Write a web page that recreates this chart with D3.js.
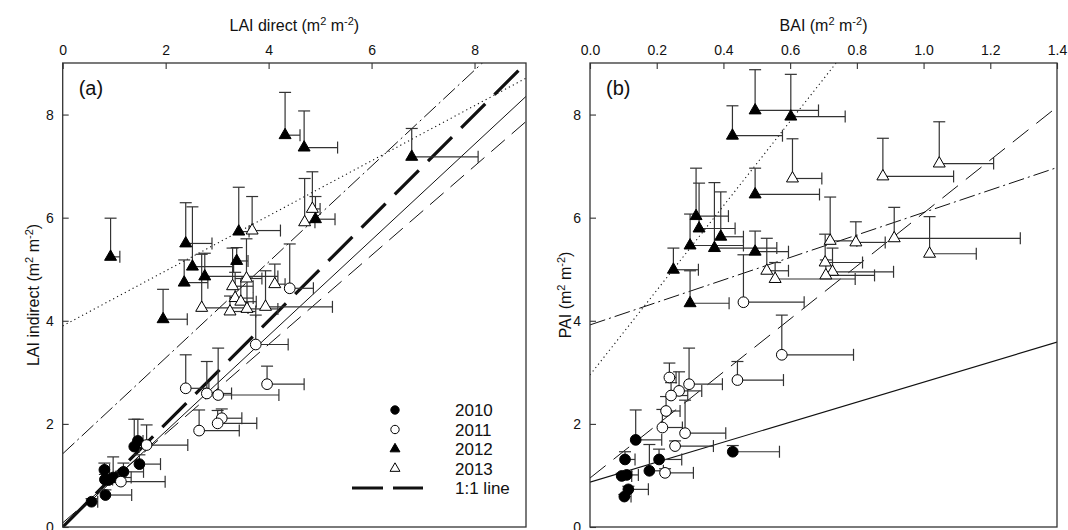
<!DOCTYPE html>
<html>
<head>
<meta charset="utf-8">
<script src="https://cdn.jsdelivr.net/npm/d3@7"></script>
<style>
  body { margin: 0; background: #fff; }
  svg { font-family: "Liberation Sans", Arial, sans-serif; }
</style>
</head>
<body>
<svg id="chart" width="1068" height="530"></svg>
<script>
// each point: [x, y, x error, y error]
var lai2010 = [[0.56,0.49,0.12,0.06],[0.83,0.62,0.51,0.1],[0.82,0.92,0.15,0.1],[0.81,1.11,0.1,0.13],
  [0.89,0.91,0.2,0.1],[0.98,0.96,0.35,0.4],[1.18,1.07,0.39,0.17],[1.49,1.22,0.41,0.18],
  [1.39,1.56,0.1,0.53],[1.46,1.67,0.1,0.42]];
var lai2011 = [[4.41,4.63,0.46,0.86],[3.75,3.54,0.63,0.57],[3.97,2.77,0.72,0.35],[2.39,2.69,0.45,0.65],
  [2.80,2.59,0.48,0.62],[3.02,2.56,1.18,0.91],[3.09,2.11,0.39,0.18],[3.01,2.01,0.76,0.25],
  [2.65,1.87,0.78,0.4],[1.63,1.59,0.8,0.39],[1.13,0.88,0.86,0.2]];
var lai2012 = [[0.93,5.24,0.18,0.75],[4.32,7.60,0.29,0.83],[4.69,7.36,0.65,0.71],[2.39,5.50,0.51,0.79],
  [2.52,5.05,0.8,1.16],[2.36,4.74,0.46,0.44],[2.76,4.86,1.42,0.45],[3.42,5.73,0.2,0.86],
  [3.38,5.16,0.22,0.26],[4.91,5.97,0.38,0.44],[6.78,7.18,1.29,0.55],[1.95,4.03,0.47,0.58]];
var lai2013 = [[4.85,6.17,0.15,0.72],[4.70,5.91,0.2,0.85],[3.68,5.75,0.55,0.66],[3.57,4.82,0.3,0.77],
  [3.30,4.67,0.4,0.74],[4.12,4.71,0.2,0.39],[2.70,4.25,0.9,1.04],[3.25,4.18,0.5,0.3],
  [3.35,4.44,0.35,0.5],[3.46,4.37,0.3,0.45],[3.58,4.23,0.6,0.6],[3.94,4.27,1.3,0.7]];

var bai2010 = [[0.137,1.69,0.078,0.58],[0.105,1.31,0.03,0.15],[0.207,1.31,0.068,0.2],[0.428,1.46,0.14,0.12],
  [0.178,1.09,0.042,0.51],[0.095,0.99,0.03,0.05],[0.11,1.01,0.035,0.06],[0.115,0.73,0.06,0.06],
  [0.103,0.59,0.02,0.04]];
var bai2011 = [[0.46,4.36,0.182,0.92],[0.575,3.34,0.215,0.77],[0.442,2.85,0.138,0.36],[0.238,2.90,0.02,0.28],
  [0.297,2.77,0.1,0.7],[0.267,2.64,0.068,0.37],[0.243,2.55,0.05,0.25],[0.228,2.25,0.042,0.28],
  [0.217,1.93,0.06,0.35],[0.285,1.82,0.122,0.64],[0.255,1.57,0.115,0.1],[0.225,1.05,0.085,0.08]];
var bai2012 = [[0.495,8.08,0.19,0.79],[0.602,7.96,0.163,0.82],[0.427,7.59,0.15,0.58],[0.495,6.45,0.193,0.51],
  [0.318,6.03,0.097,0.93],[0.327,5.79,0.108,0.88],[0.392,5.63,0.068,0.87],[0.30,5.46,0.16,0.61],
  [0.373,5.41,0.187,1.27],[0.495,5.34,0.1,0.4],[0.25,4.99,0.075,0.42],[0.30,4.34,0.117,0.63]];
var bai2013 = [[0.607,6.76,0.088,0.77],[0.878,6.80,0.212,0.74],[1.047,7.05,0.163,0.81],[0.72,5.55,0.08,0.85],
  [0.797,5.52,0.088,0.4],[0.912,5.60,0.378,0.6],[1.018,5.30,0.14,0.72],[0.705,5.13,0.112,0.55],
  [0.727,4.95,0.183,0.46],[0.707,4.88,0.146,0.3],[0.53,4.97,0.065,0.63],[0.555,4.81,0.24,0.32]];

// regression lines: [intercept, slope]
var fitsA = [[3.9,0.534],[1.42,0.93],[0,1],[0,0.928],[0.08,0.865]];
var fitsB = [[0.87,1.94],[0.95,5.14],[3.92,2.18],[2.95,8.2]];

var years = ["2010","2011","2012","2013"];
var legendLine = "1:1 line";
var ticksA = [0,2,4,6,8];
var ticksB = [0.0,0.2,0.4,0.6,0.8,1.0,1.2,1.4];
var ticksY = [0,2,4,6,8];

var lineStyleA = [
  {dash:"1.2,3.2", w:1.1},
  {dash:"16,4,2,4", w:1},
  {dash:"34,13", w:3.2},
  {dash:null, w:1},
  {dash:"18,9", w:1}
];
var lineStyleB = [
  {dash:null, w:1.1},
  {dash:"20,10", w:1},
  {dash:"16,4,2,4", w:1},
  {dash:"1.2,3.2", w:1.1}
];

var svg = d3.select("#chart");
var top_ = 63, bottom = 527;

function superTitle(sel, prefix) {
  sel.append("tspan").text(prefix + " (m");
  sel.append("tspan").attr("font-size", "11px").attr("dy", -6).text("2");
  sel.append("tspan").attr("dy", 6).text(" m");
  sel.append("tspan").attr("font-size", "11px").attr("dy", -6).text("-2");
  sel.append("tspan").attr("dy", 6).text(")");
}

function panel(opt) {
  var x = d3.scaleLinear().domain(opt.xdom).range([opt.left, opt.right]);
  var y = d3.scaleLinear().domain([0, 9]).range([bottom, top_]);
  var g = svg.append("g");

  var clipId = "clip" + opt.label;
  svg.append("clipPath").attr("id", clipId).append("rect")
    .attr("x", opt.left).attr("y", top_).attr("width", opt.right - opt.left).attr("height", bottom - top_);

  // fit lines
  var lg = g.append("g").attr("clip-path", "url(#" + clipId + ")");
  opt.fits.forEach(function(f, i) {
    var st = opt.styles[i];
    var x0 = opt.xdom[0], x1 = opt.xdom[1];
    lg.append("line")
      .attr("x1", x(x0)).attr("y1", y(f[0] + f[1] * x0))
      .attr("x2", x(x1)).attr("y2", y(f[0] + f[1] * x1))
      .attr("stroke", "#111")
      .attr("stroke-width", st.w)
      .attr("stroke-dasharray", st.dash);
  });

  // error bars
  var eg = g.append("g").attr("stroke", "#333").attr("stroke-width", 1.2).attr("fill", "none");
  opt.series.forEach(function(pts) {
    pts.forEach(function(d) {
      var px = x(d[0]), py = y(d[1]);
      var ty = y(d[1] + d[3]), rx = x(d[0] + d[2]);
      eg.append("line").attr("x1", px).attr("x2", px).attr("y1", py).attr("y2", ty);
      eg.append("line").attr("x1", px - 6).attr("x2", px + 6).attr("y1", ty).attr("y2", ty);
      eg.append("line").attr("x1", px).attr("x2", rx).attr("y1", py).attr("y2", py);
      eg.append("line").attr("x1", rx).attr("x2", rx).attr("y1", py - 6).attr("y2", py + 6);
    });
  });

  // markers
  var mg = g.append("g");
  opt.series.forEach(function(pts, si) {
    var filled = (si % 2 == 0);
    var sym = si < 2 ? d3.symbol().type(d3.symbolCircle).size(90) : d3.symbol().type(d3.symbolTriangle).size(62);
    mg.selectAll(null).data(pts).enter().append("path")
      .attr("d", sym)
      .attr("transform", function(d) { return "translate(" + x(d[0]) + "," + y(d[1]) + ")"; })
      .attr("fill", filled ? "#000" : "#fff")
      .attr("stroke", "#000")
      .attr("stroke-width", 1);
  });

  // frame
  g.append("rect")
    .attr("x", opt.left).attr("y", top_)
    .attr("width", opt.right - opt.left).attr("height", bottom - top_)
    .attr("fill", "none").attr("stroke", "#333").attr("stroke-width", 1.3);

  // axes
  var ax = g.append("g").attr("transform", "translate(0," + top_ + ")")
    .call(d3.axisTop(x).tickValues(opt.xticks).tickFormat(opt.xfmt).tickSize(-6).tickPadding(8));
  var ay = g.append("g").attr("transform", "translate(" + opt.left + ",0)")
    .call(d3.axisLeft(y).tickValues(ticksY).tickFormat(d3.format("d")).tickSize(-6).tickPadding(9));
  [ax, ay].forEach(function(a) {
    a.select(".domain").remove();
    a.selectAll("line").attr("stroke", "#333").attr("stroke-width", 1.1);
    a.selectAll("text").attr("font-size", "14px").attr("fill", "#111").attr("font-family", "Liberation Sans, Arial, sans-serif");
  });

  // titles
  var tx = svg.append("text").attr("x", (opt.left + opt.right) / 2).attr("y", 31)
    .attr("text-anchor", "middle").attr("font-size", "16px").attr("fill", "#111");
  superTitle(tx, opt.xtitle);
  var cy = (top_ + bottom) / 2;
  var ty = svg.append("text")
    .attr("transform", "translate(" + opt.ytx + "," + cy + ") rotate(-90)")
    .attr("text-anchor", "middle").attr("font-size", "16px").attr("fill", "#111");
  superTitle(ty, opt.ytitle);

  svg.append("text").attr("x", opt.left + 16).attr("y", top_ + 32)
    .attr("font-size", "20px").attr("fill", "#111").text("(" + opt.label + ")");

  return {x: x, y: y};
}

panel({label: "a", left: 62.7, right: 526, xdom: [0, 9], xticks: ticksA, xfmt: d3.format("d"),
  fits: fitsA, styles: lineStyleA, series: [lai2010, lai2011, lai2012, lai2013],
  xtitle: "LAI direct", ytitle: "LAI indirect", ytx: 39});

panel({label: "b", left: 590, right: 1057, xdom: [0, 1.4], xticks: ticksB, xfmt: d3.format(".1f"),
  fits: fitsB, styles: lineStyleB, series: [bai2010, bai2011, bai2012, bai2013],
  xtitle: "BAI", ytitle: "PAI", ytx: 571});

// legend (panel a)
var leg = svg.append("g").attr("transform", "translate(395,410)");
years.forEach(function(yr, i) {
  var row = leg.append("g").attr("transform", "translate(0," + (i * 19.5) + ")");
  var sym = i < 2 ? d3.symbol().type(d3.symbolCircle).size(55) : d3.symbol().type(d3.symbolTriangle).size(42);
  row.append("path").attr("d", sym)
    .attr("fill", i % 2 == 0 ? "#000" : "#fff").attr("stroke", "#000").attr("stroke-width", 1);
  row.append("text").attr("x", 60).attr("y", 6).attr("font-size", "17px").attr("fill", "#111").text(yr);
});
var lrow = leg.append("g").attr("transform", "translate(0," + (4 * 19.5) + ")");
lrow.append("line").attr("x1", -43).attr("x2", 28).attr("y1", 0).attr("y2", 0)
  .attr("stroke", "#111").attr("stroke-width", 3).attr("stroke-dasharray", "31,10");
lrow.append("text").attr("x", 60).attr("y", 6).attr("font-size", "17px").attr("fill", "#111").text(legendLine);
</script>
</body>
</html>
